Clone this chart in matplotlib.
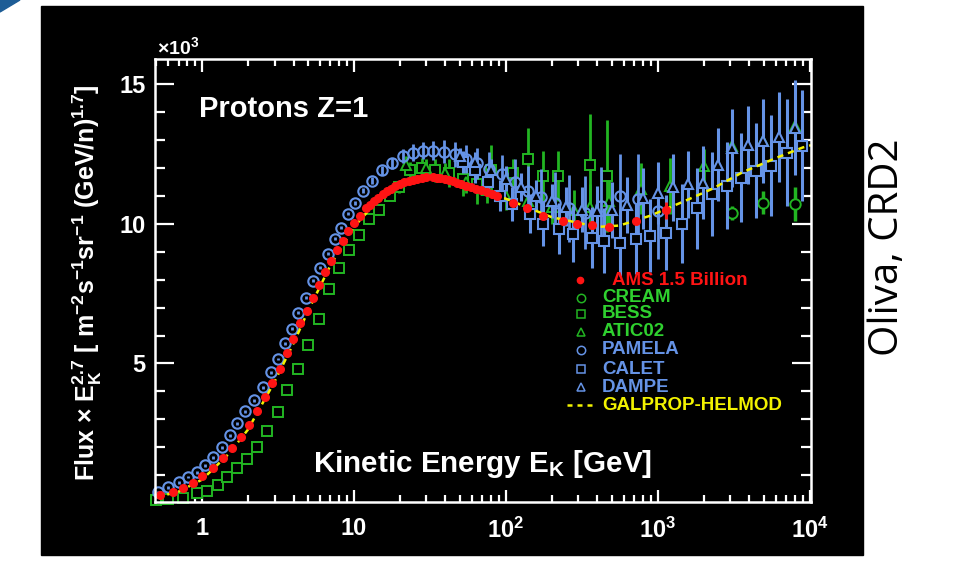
import matplotlib
matplotlib.use('Agg')
import matplotlib.pyplot as plt
from matplotlib.lines import Line2D
from matplotlib.patches import Rectangle, Polygon
from matplotlib.ticker import FixedLocator, FixedFormatter, LogLocator, NullFormatter, MultipleLocator

plt.rcParams['font.family'] = ['Liberation Sans', 'DejaVu Sans']
plt.rcParams['font.weight'] = 'bold'
plt.rcParams['mathtext.fontset'] = 'custom'
plt.rcParams['mathtext.rm'] = 'Liberation Sans:bold'
plt.rcParams['mathtext.it'] = 'Liberation Sans:bold'
plt.rcParams['mathtext.bf'] = 'Liberation Sans:bold'
plt.rcParams['mathtext.sf'] = 'Liberation Sans:bold'
plt.rcParams['mathtext.default'] = 'rm'

# kinetic energy [GeV] and flux x E^2.7 in units of 10^3
ams_e = [0.53, 0.64, 0.75, 0.87, 1.00, 1.18, 1.37, 1.57, 1.80, 2.04,
         2.30, 2.60, 2.90, 3.26, 3.60, 3.97, 4.40, 4.90, 5.37, 5.90,
         6.45, 7.06, 7.70, 8.45, 9.10, 10.0, 10.9, 12.0, 12.8, 13.5,
         14.5, 15.5, 16.5, 17.5, 18.7, 20.0, 21.5, 23.0, 24.5, 26.0,
         28.0, 30.0, 33.0, 35.0, 37.0, 39.5, 42.0, 45.0, 47.5, 51.0,
         55.0, 59.0, 64.0, 69.0, 75.0, 81.0, 87.0, 111, 137, 175,
         237, 295, 370, 480, 720, 1140]
ams_f = [0.29, 0.40, 0.54, 0.72, 0.97, 1.25, 1.62, 1.97, 2.37, 2.79,
         3.29, 3.79, 4.29, 4.82, 5.37, 5.87, 6.43, 6.89, 7.35, 7.82,
         8.26, 8.68, 9.07, 9.39, 9.75, 10.03, 10.28, 10.54, 10.68, 10.79,
         10.93, 11.05, 11.15, 11.25, 11.35, 11.43, 11.49, 11.53, 11.57, 11.60,
         11.63, 11.65, 11.65, 11.64, 11.63, 11.60, 11.57, 11.51, 11.45, 11.40,
         11.35, 11.30, 11.25, 11.19, 11.13, 11.06, 11.00, 10.74, 10.57, 10.28,
         10.11, 10.00, 9.96, 9.89, 10.11, 10.47]
ams_last_err = 0.3

galprop_e = [0.5, 0.7, 1.0, 1.5, 2.0, 3.0, 4.0, 5.0, 7.0, 10, 15, 20, 30, 50,
             100, 200, 400, 560, 890, 1540, 2300, 3600, 6100, 9000, 10200]
galprop_f = [0.22, 0.42, 0.85, 1.77, 2.63, 4.35, 5.72, 6.89, 8.51, 9.88, 10.95,
             11.40, 11.65, 11.45, 10.89, 10.23, 9.88, 9.93, 10.28, 10.83, 11.25,
             11.83, 12.36, 12.72, 12.80]

pamela_e = [0.51, 0.60, 0.70, 0.81, 0.93, 1.05, 1.18, 1.35, 1.53, 1.70,
            1.92, 2.20, 2.50, 2.85, 3.15, 3.50, 3.90, 4.30, 4.85, 5.40,
            6.00, 6.70, 7.50, 8.20, 9.10, 10.1, 11.4, 13.1, 15.3, 17.8,
            21.0, 24.5, 28.5, 33.0, 39.0, 46.0, 55.0, 65.0, 78.0, 95.0,
            115, 140, 170, 210, 260, 330, 420, 560, 740, 1000]
pamela_f = [0.40, 0.57, 0.75, 0.94, 1.11, 1.36, 1.65, 2.00, 2.43, 2.86,
            3.29, 3.68, 4.15, 4.68, 5.16, 5.72, 6.25, 6.82, 7.35, 7.96,
            8.43, 8.92, 9.46, 9.86, 10.36, 10.74, 11.18, 11.53, 11.90, 12.16,
            12.42, 12.54, 12.61, 12.61, 12.57, 12.47, 12.31, 12.16, 11.96, 11.76,
            11.50, 11.15, 10.95, 10.74, 10.54, 10.39, 10.64, 11.00, 10.89, 10.44]
pamela_err = [0.05, 0.05, 0.05, 0.05, 0.05, 0.05, 0.05, 0.05, 0.05, 0.05,
              0.05, 0.05, 0.05, 0.05, 0.05, 0.05, 0.05, 0.05, 0.05, 0.05,
              0.05, 0.05, 0.05, 0.05, 0.05, 0.08, 0.10, 0.12, 0.15, 0.20,
              0.25, 0.30, 0.30, 0.35, 0.40, 0.45, 0.50, 0.55, 0.60, 0.70,
              0.80, 0.90, 1.00, 1.10, 1.20, 1.30, 1.40, 1.50, 1.60, 1.70]

calet_e = [52, 63, 76, 91, 110, 144, 175, 225, 275, 370, 445, 560,
           720, 890, 1140, 1440, 1800, 2260, 2850, 3550, 4460, 5600, 7100, 8900]
calet_f = [12.2, 11.9, 11.5, 11.0, 10.7, 10.36, 10.0, 9.82, 9.64, 9.5, 9.39, 9.32,
           9.46, 9.57, 9.68, 10.0, 10.54, 11.07, 11.36, 11.64, 11.89, 12.07, 12.54, 12.79]
calet_err = [0.4, 0.45, 0.5, 0.55, 0.6, 0.7, 0.8, 0.9, 1.0, 1.1, 1.15, 1.2,
             1.25, 1.3, 1.35, 1.4, 1.45, 1.5, 1.55, 1.6, 1.7, 1.8, 1.9, 2.0]

dampe_e = [50, 63, 80, 100, 126, 158, 200, 250, 316, 400, 500, 630,
           800, 1000, 1260, 1580, 1980, 2500, 3100, 3900, 4900, 6300, 8000]
dampe_f = [12.4, 12.2, 11.9, 11.6, 11.3, 11.0, 10.8, 10.6, 10.5, 10.45, 10.5, 10.65,
           10.9, 11.1, 11.3, 11.4, 11.46, 12.1, 12.71, 12.8, 12.96, 13.1, 13.43]
dampe_err = [0.3, 0.35, 0.4, 0.45, 0.5, 0.55, 0.6, 0.7, 0.8, 0.9, 1.0, 1.0,
             1.1, 1.1, 1.2, 1.2, 1.3, 1.3, 1.4, 1.4, 1.5, 1.6, 1.7]

bess_e = [0.50, 0.60, 0.75, 0.93, 1.08, 1.27, 1.46, 1.70, 1.98, 2.30,
          2.68, 3.16, 3.60, 4.27, 4.97, 5.90, 6.85, 7.97, 9.30, 10.8,
          12.5, 14.6, 17.3, 19.8, 23.4, 28, 34, 42, 52, 65,
          80, 111, 140, 175, 220, 360, 460]
bess_f = [0.12, 0.15, 0.21, 0.36, 0.46, 0.64, 0.93, 1.25, 1.60, 2.00,
          2.60, 3.25, 4.04, 4.82, 5.67, 6.58, 7.65, 8.41, 9.04, 9.58,
          10.18, 10.50, 11.00, 11.29, 11.9, 12.0, 11.9, 11.8, 11.6, 11.4,
          11.9, 11.8, 12.3, 11.7, 11.7, 12.1, 11.7]
bess_err = [0.03, 0.03, 0.03, 0.03, 0.03, 0.03, 0.03, 0.03, 0.03, 0.03,
            0.03, 0.03, 0.03, 0.03, 0.03, 0.03, 0.03, 0.03, 0.03, 0.10,
            0.10, 0.15, 0.15, 0.20, 0.30, 0.35, 0.40, 0.50, 0.60, 0.70,
            0.90, 0.50, 1.10, 0.90, 0.90, 1.80, 2.00]

atic_e = [22, 30, 40, 55, 75, 100, 140, 200, 280, 360, 480, 780, 1200, 2000, 3100, 4900, 8000]
atic_f = [12.1, 12.0, 11.8, 11.5, 11.2, 11.0, 10.8, 10.6, 10.5, 10.6, 10.82, 11.25, 11.36,
          12.07, 12.79, 12.96, 13.5]
atic_err = [0.3, 0.3, 0.35, 0.4, 0.45, 0.5, 0.55, 0.6, 0.7, 0.8, 0.9, 0.9, 1.0, 0.6, 0.6, 0.6, 0.7]

cream_e = [3100, 4900, 8000]
cream_f = [10.39, 10.75, 10.71]
cream_err = [0.25, 0.4, 0.6]

xtick_vals = [1, 10, 100, 1000, 10000]
xtick_labels = ['1', '10', '$10^2$', '$10^3$', '$10^4$']
ytick_vals = [5, 10, 15]
ytick_labels = ['5', '10', '15']

RED = '#ff1414'
GREEN = '#22b522'
GREEN_TXT = '#2fd02f'
BLUE = '#6593e6'
YELLOW = '#f2f200'

W, H = 963, 563
def fx(x):
    return x / W
def fy(y):
    return 1 - y / H

fig = plt.figure(figsize=(9.63, 5.63), dpi=100, facecolor='white')
fig.patches.append(Rectangle((fx(41), fy(555)), (863 - 41) / W, (555 - 6) / H,
                             transform=fig.transFigure, color='black', zorder=-2))
fig.patches.append(Polygon([(0, 1), (fx(20), 1), (0, fy(12))], closed=True,
                           transform=fig.transFigure, color='#1d5d96', zorder=-2))

ax = fig.add_axes([fx(155), fy(502), (811 - 155) / W, (502 - 58.5) / H])
ax.set_facecolor('black')

# green experiments
ax.errorbar(bess_e, bess_f, yerr=bess_err, fmt='s', ms=7, mec=GREEN, mfc='black', mew=1.4,
            ecolor=GREEN, elinewidth=2, capsize=0, zorder=2, clip_on=False)
ax.errorbar(atic_e, atic_f, yerr=atic_err, fmt='^', ms=7.5, mec=GREEN, mfc='black', mew=1.4,
            ecolor=GREEN, elinewidth=2, capsize=0, zorder=2)
ax.errorbar(cream_e, cream_f, yerr=cream_err, fmt='o', ms=7.5, mec=GREEN, mfc='black', mew=1.4,
            ecolor=GREEN, elinewidth=2.5, capsize=0, zorder=2)

# blue experiments
ax.errorbar(pamela_e, pamela_f, yerr=pamela_err, fmt='o', ms=7.5, mec=BLUE, mfc='none', mew=1.5,
            ecolor=BLUE, elinewidth=2, capsize=0, zorder=3, clip_on=False)
ax.errorbar(calet_e, calet_f, yerr=calet_err, fmt='s', ms=7.5, mec=BLUE, mfc='black', mew=1.5,
            ecolor=BLUE, elinewidth=2.2, capsize=0, zorder=3)
ax.errorbar(dampe_e, dampe_f, yerr=dampe_err, fmt='^', ms=7.5, mec=BLUE, mfc='black', mew=1.5,
            ecolor=BLUE, elinewidth=2.2, capsize=0, zorder=3)

# model and AMS
ax.plot(galprop_e, galprop_f, color=YELLOW, lw=1.8, ls=(0, (2.5, 2)), zorder=4)
ax.plot(ams_e, ams_f, 'o', ms=5.5, color=RED, zorder=5, clip_on=False)
ax.errorbar(ams_e[-1:], ams_f[-1:], yerr=ams_last_err, fmt='none', ecolor=RED,
            elinewidth=2, capsize=0, zorder=5)

ax.set_xscale('log')
ax.set_xlim(0.49, 1.02e4)
ax.set_ylim(0.05, 15.9)

ax.xaxis.set_major_locator(FixedLocator(xtick_vals))
ax.xaxis.set_major_formatter(FixedFormatter(xtick_labels))
ax.xaxis.set_minor_locator(LogLocator(base=10, subs=[2, 3, 4, 5, 6, 7, 8, 9], numticks=20))
ax.xaxis.set_minor_formatter(NullFormatter())
ax.yaxis.set_major_locator(FixedLocator(ytick_vals))
ax.yaxis.set_major_formatter(FixedFormatter(ytick_labels))
ax.yaxis.set_minor_locator(MultipleLocator(1))

for s in ax.spines.values():
    s.set_color('white')
    s.set_linewidth(1.8)
    s.set_zorder(6)
ax.tick_params(which='both', direction='in', colors='white', top=True, right=True,
               width=1.6, labelsize=17)
ax.tick_params(axis='y', which='major', length=14, pad=7)
ax.tick_params(axis='y', which='minor', length=7)
ax.tick_params(axis='x', which='major', length=9, pad=11)
ax.tick_params(axis='x', which='minor', length=5)

fig.text(fx(157), fy(47), '×10$^3$', color='white', fontsize=14, ha='left', va='center')
fig.text(fx(87), fy(283),
         r'Flux × E$_{K}^{2.7}$ [ m$^{-2}$s$^{-1}$sr$^{-1}$ (GeV/n)$^{1.7}$]',
         color='white', fontsize=18, rotation=90, ha='center', va='center')
fig.text(fx(199), fy(117), 'Protons Z=1', color='white', fontsize=21,
         ha='left', va='baseline')
fig.text(fx(313), fy(472), 'Kinetic Energy E$_{K}$ [GeV]', color='white', fontsize=21.3,
         ha='left', va='baseline')

# legend
leg_rows = [
    ('AMS 1.5 Billion', RED, RED, 'o', 280, 612),
    ('CREAM', GREEN, GREEN_TXT, 'o', 298, 602),
    ('BESS', GREEN, GREEN_TXT, 's', 314, 602),
    ('ATIC02', GREEN, GREEN_TXT, '^', 332, 602),
    ('PAMELA', BLUE, BLUE, 'o', 350, 602),
    ('CALET', BLUE, BLUE, 's', 369, 602),
    ('DAMPE', BLUE, BLUE, '^', 387, 602),
]
for label, mcol, tcol, mk, yy, tx in leg_rows:
    if label.startswith('AMS'):
        fig.add_artist(Line2D([fx(580)], [fy(yy)], marker='o', ms=4.5, color=mcol, ls='none'))
    else:
        fig.add_artist(Line2D([fx(581)], [fy(yy)], marker=mk, ms=6, mec=mcol, mfc='none',
                              mew=1.1, ls='none'))
    fig.text(fx(tx), fy(yy), label, color=tcol, fontsize=13.5, ha='left', va='center')
fig.add_artist(Line2D([fx(567), fx(597)], [fy(405), fy(405)], color=YELLOW, lw=1.8,
                      ls=(0, (2, 2))))
fig.text(fx(602), fy(405), 'GALPROP-HELMOD', color=YELLOW, fontsize=13.5, ha='left', va='center')

fig.text(fx(888), fy(247), 'Oliva, CRD2', color='black', fontsize=29, rotation=90,
         ha='center', va='center', family='Open Sans', weight='normal')

fig.savefig('out.png', dpi=100, facecolor='white')
